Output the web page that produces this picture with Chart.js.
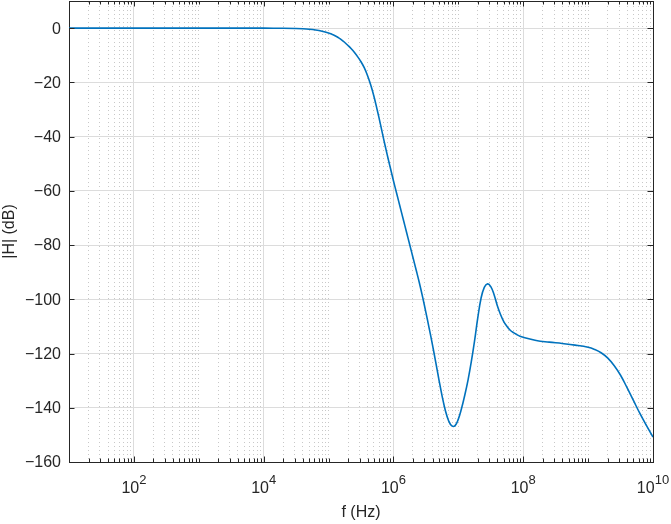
<!DOCTYPE html>
<html>
<head>
<meta charset="utf-8">
<script src="https://cdn.jsdelivr.net/npm/chart.js@4/dist/chart.umd.min.js"></script>
<style>
  html, body { margin: 0; padding: 0; background: #fff; }
  #wrap { width: 671px; height: 524px; position: relative; }
</style>
</head>
<body>
<div id="wrap"><canvas id="c" width="671" height="524"></canvas></div>
<script>
// ---- data (log10 of frequency in Hz, magnitude in dB) ----
const logFreq = [1.0, 2.0, 3.0, 3.5, 4.0, 4.3, 4.5, 4.6, 4.7, 4.8, 4.9,
  5.0, 5.05, 5.1, 5.15, 5.2, 5.25, 5.3, 5.35, 5.4, 5.45, 5.5, 5.55, 5.6, 5.65, 5.7, 5.75, 5.8, 5.85, 5.9, 5.95,
  6.0, 6.05, 6.1, 6.15, 6.2, 6.25, 6.3, 6.35, 6.4, 6.45, 6.5, 6.55, 6.6, 6.65, 6.7, 6.75, 6.8, 6.85, 6.9, 6.95,
  7.0, 7.05, 7.1, 7.15, 7.2, 7.25, 7.3, 7.35, 7.4, 7.45, 7.5, 7.55, 7.6, 7.65, 7.7, 7.75, 7.8, 7.85, 7.9, 7.95,
  8.0, 8.2, 8.4, 8.6, 8.8, 9.0, 9.1, 9.2, 9.3, 9.4, 9.5, 9.6, 9.7, 9.8, 9.9, 10.0];
const magDb = [0, 0, 0, 0, -0.02, -0.06, -0.15, -0.25, -0.42, -0.7, -1.15,
  -1.8, -2.25, -2.8, -3.5, -4.3, -5.3, -6.4, -7.6, -9.0, -10.6, -12.4, -14.6, -17.5, -21, -25.2, -30.2, -35.5, -41, -46.3, -51.3,
  -56.3, -61, -65.7, -70.4, -75.1, -79.8, -84.5, -89.2, -94, -99.2, -104.8, -110.6, -116.6, -123, -129.5, -135.7, -141, -144.8, -146.7, -146.6,
  -144.2, -140.2, -135.3, -129.7, -123, -115.3, -106.8, -99.6, -95.6, -94.3, -95.3, -98.2, -102.3, -105.6, -108.2, -110, -111.4, -112.3, -113, -113.6,
  -114, -115.2, -115.8, -116.3, -116.9, -117.7, -118.5, -119.7, -121.6, -124.4, -128, -132.6, -137.4, -142.2, -146.6, -150.8];
const xTickExponents = [2, 4, 6, 8, 10];
const xDecades = [1, 2, 3, 4, 5, 6, 7, 8, 9, 10];
const yTickValues = [-160, -140, -120, -100, -80, -60, -40, -20, 0];
const xLabel = 'f (Hz)';
const yLabel = '|H| (dB)';

const FONT = '"Liberation Sans", Arial, Helvetica, sans-serif';
const AXIS_COLOR = '#262626';

const points = logFreq.map((e, i) => ({ x: Math.pow(10, e), y: magDb[i] }));

function buildLogTicks() {
  const t = [];
  for (const d of xDecades) {
    const base = Math.pow(10, d);
    t.push({ value: base, major: xTickExponents.includes(d) });
    if (d < 10) for (let m = 2; m <= 9; m++) t.push({ value: m * base, major: false });
  }
  return t;
}

const boxTicks = {
  id: 'boxTicks',
  afterDraw(chart) {
    const { ctx, chartArea: a, scales } = chart;
    const x = scales.x, y = scales.y;
    ctx.save();
    ctx.strokeStyle = AXIS_COLOR;
    ctx.lineWidth = 1;
    ctx.beginPath();
    for (const t of x.ticks) {
      const px = Math.round(x.getPixelForValue(t.value)) + 0.5;
      const L = t.major ? 5.5 : 3.5;
      ctx.moveTo(px, a.bottom); ctx.lineTo(px, a.bottom - L);
      ctx.moveTo(px, a.top); ctx.lineTo(px, a.top + L);
    }
    for (const t of y.ticks) {
      const py = Math.round(y.getPixelForValue(t.value)) + 0.5;
      ctx.moveTo(a.left, py); ctx.lineTo(a.left + 5.5, py);
      ctx.moveTo(a.right, py); ctx.lineTo(a.right - 5.5, py);
    }
    ctx.stroke();
    ctx.fillStyle = AXIS_COLOR;
    // y tick labels
    ctx.font = '16px ' + FONT;
    ctx.textAlign = 'right';
    ctx.textBaseline = 'middle';
    for (const t of y.ticks) {
      const v = t.value;
      const txt = v < 0 ? '\u2212' + Math.abs(v) : String(v);
      ctx.fillText(txt, a.left - 8, y.getPixelForValue(v) + 1);
    }
    // x tick labels 10^n with superscript
    ctx.textBaseline = 'alphabetic';
    ctx.textAlign = 'left';
    for (const t of x.ticks) {
      if (!t.major) continue;
      const e = String(Math.round(Math.log10(t.value)));
      ctx.font = '16px ' + FONT;
      const wb = ctx.measureText('10').width;
      ctx.font = '13px ' + FONT;
      const we = ctx.measureText(e).width;
      const px = x.getPixelForValue(t.value);
      const x0 = px - (wb + we) / 2;
      ctx.font = '16px ' + FONT;
      ctx.fillText('10', x0, a.bottom + 30.5);
      ctx.font = '13px ' + FONT;
      ctx.fillText(e, x0 + wb, a.bottom + 21.5);
    }
    ctx.restore();
  }
};

new Chart(document.getElementById('c'), {
  type: 'line',
  data: {
    datasets: [{
      data: points,
      borderColor: '#0072BD',
      borderWidth: 1.6,
      pointRadius: 0,
      fill: false,
      tension: 0.4
    }]
  },
  options: {
    responsive: false,
    animation: false,
    events: [],
    layout: { autoPadding: false, padding: { top: 1, right: 18, left: 0, bottom: 0 } },
    plugins: { legend: { display: false }, tooltip: { enabled: false } },
    scales: {
      x: {
        type: 'logarithmic',
        position: 'bottom',
        min: 10, max: 1e10,
        afterBuildTicks(s) { s.ticks = buildLogTicks(); },
        afterFit(s) { s.height = 62; },
        ticks: { display: false, autoSkip: false },
        grid: {
          drawTicks: false,
          color: c => (c.tick && c.tick.major) ? '#dcdcdc' : 'rgba(0,0,0,0)',
          lineWidth: 1
        },
        border: { display: true, color: AXIS_COLOR, width: 1 },
        title: { display: true, text: xLabel, color: AXIS_COLOR, font: { family: FONT, size: 16 }, padding: { top: 0, bottom: 2 } }
      },
      x2: {
        type: 'logarithmic',
        position: 'top',
        min: 10, max: 1e10,
        afterBuildTicks(s) { s.ticks = buildLogTicks(); },
        afterFit(s) { s.height = 0; },
        ticks: { display: false, autoSkip: false },
        grid: {
          drawTicks: false,
          color: c => (c.tick && !c.tick.major && c.tick.value > 10 && c.tick.value < 1e10) ? '#c8c8c8' : 'rgba(0,0,0,0)',
          lineWidth: 1
        },
        border: { display: true, color: AXIS_COLOR, width: 1, dash: [1, 3] }
      },
      y: {
        type: 'linear',
        position: 'left',
        min: -160, max: 10,
        afterBuildTicks(s) { s.ticks = yTickValues.map(v => ({ value: v })); },
        afterFit(s) { s.width = 69; },
        ticks: { display: false },
        grid: { drawTicks: false, tickLength: 0, color: '#dcdcdc', lineWidth: 1 },
        border: { display: true, color: AXIS_COLOR, width: 1 },
        title: { display: true, text: yLabel, color: AXIS_COLOR, font: { family: FONT, size: 16 }, padding: { top: 0, bottom: 0 } }
      },
      y2: {
        type: 'linear',
        position: 'right',
        min: -160, max: 10,
        afterFit(s) { s.width = 0; },
        ticks: { display: false },
        grid: { display: false, drawTicks: false },
        border: { display: true, color: AXIS_COLOR, width: 1 }
      }
    }
  },
  plugins: [boxTicks]
});
</script>
</body>
</html>
